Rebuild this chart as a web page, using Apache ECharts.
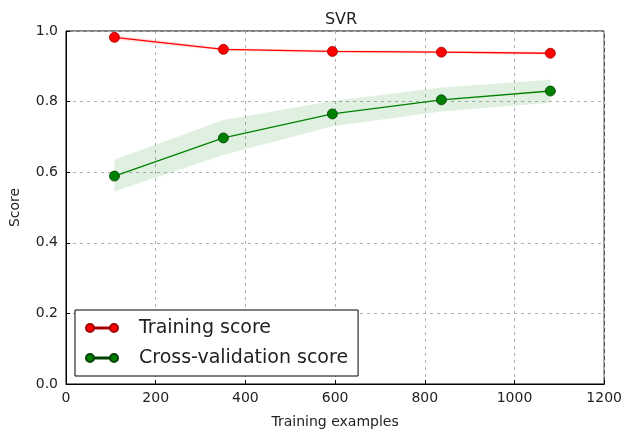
<!DOCTYPE html>
<html><head><meta charset="utf-8">
<script src="https://cdn.jsdelivr.net/npm/echarts@6/dist/echarts.min.js"></script>
<style>html,body{margin:0;padding:0;background:#fff}#c{width:625px;height:437px}</style>
</head><body><div id="c"></div>
<script>
const trainSizes = [108, 351, 594, 837, 1080];
const trainScore = [0.982, 0.948, 0.942, 0.940, 0.937];
const trainLow  = [0.975, 0.944, 0.938, 0.936, 0.933];
const trainHigh = [0.989, 0.952, 0.946, 0.944, 0.941];
const cvScore = [0.589, 0.697, 0.765, 0.805, 0.830];
const cvLow   = [0.545, 0.649, 0.730, 0.772, 0.797];
const cvHigh  = [0.635, 0.748, 0.802, 0.840, 0.862];
const xTicks = [0, 200, 400, 600, 800, 1000, 1200];
const yTicks = [0.0, 0.2, 0.4, 0.6, 0.8, 1.0];

const FONT = 'DejaVu Sans';
const pairs = (xs, ys) => xs.map((x, i) => [x, ys[i]]);
const legendIcon = 'path://M0,4 A4,4 0 1,1 8,4 A4,4 0 1,1 0,4 Z M8,3.5 L24,3.5 L24,4.5 L8,4.5 Z M24,4 A4,4 0 1,1 32,4 A4,4 0 1,1 24,4 Z';

function bandSeries(name, lo, hi, fill) {
  return {
    type: 'custom', name: name, silent: true, z: 1,
    data: trainSizes.map((x, i) => [x, lo[i], hi[i]]),
    encode: {x: 0, y: [1, 2]},
    renderItem: function (params, api) {
      if (params.dataIndex !== 0) return null;
      const pts = [];
      for (let i = 0; i < trainSizes.length; i++) pts.push(api.coord([trainSizes[i], hi[i]]));
      for (let i = trainSizes.length - 1; i >= 0; i--) pts.push(api.coord([trainSizes[i], lo[i]]));
      return {type: 'polygon', shape: {points: pts}, style: {fill: fill, stroke: null}};
    }
  };
}

const chart = echarts.init(document.getElementById('c'), null, {renderer: 'canvas'});
chart.setOption({
  animation: false,
  backgroundColor: '#fff',
  title: {text: 'SVR', left: 336, top: 7, textAlign: 'center',
    textStyle: {fontFamily: FONT, fontSize: 16, fontWeight: 'normal', color: '#222'}},
  grid: {left: 66, right: 19, top: 31, bottom: 53, show: true, borderColor: '#000', borderWidth: 1},
  xAxis: {type: 'value', min: xTicks[0], max: xTicks[xTicks.length - 1], interval: 200,
    name: 'Training examples', nameLocation: 'middle', nameGap: 31,
    nameTextStyle: {fontFamily: FONT, fontSize: 14, color: '#222'},
    axisLine: {show: true, lineStyle: {color: '#000'}},
    axisTick: {show: true, inside: true, length: 4, lineStyle: {color: '#000'}},
    axisLabel: {fontFamily: FONT, fontSize: 14, color: '#222', margin: 7,
      formatter: v => xTicks.includes(v) ? String(v) : ''},
    splitLine: {show: true, lineStyle: {color: '#b0b0b0', type: [3, 4], width: 1}}},
  yAxis: {type: 'value', min: yTicks[0], max: yTicks[yTicks.length - 1], interval: 0.2,
    name: 'Score', nameLocation: 'middle', nameGap: 44, nameRotate: 90,
    nameTextStyle: {fontFamily: FONT, fontSize: 14, color: '#222'},
    axisLine: {show: true, lineStyle: {color: '#000'}},
    axisTick: {show: true, inside: true, length: 4, lineStyle: {color: '#000'}},
    axisLabel: {fontFamily: FONT, fontSize: 14, color: '#222', margin: 8,
      formatter: v => v.toFixed(1)},
    splitLine: {show: true, lineStyle: {color: '#b0b0b0', type: [3, 4], width: 1}}},
  legend: {orient: 'vertical', left: 75, top: 310, padding: [8, 10, 8, 10], itemGap: 10,
    backgroundColor: '#fff', borderColor: '#000', borderWidth: 1, borderRadius: 0,
    itemWidth: 32, itemHeight: 8,
    textStyle: {fontFamily: FONT, fontSize: 19, lineHeight: 20, color: '#222', padding: [0, 0, 0, 16]},
    data: [{name: 'Training score', icon: legendIcon}, {name: 'Cross-validation score', icon: legendIcon}]},
  series: [
    bandSeries('trBand', trainLow, trainHigh, 'rgba(255,0,0,0.12)'),
    bandSeries('cvBand', cvLow, cvHigh, 'rgba(0,128,0,0.12)'),
    {type: 'line', name: 'Training score', data: pairs(trainSizes, trainScore), symbol: 'circle', symbolSize: 10,
      color: '#ff0000', lineStyle: {color: '#ff0000', width: 1.3},
      itemStyle: {color: '#ff0000', borderColor: '#a00000', borderWidth: 0.8}, z: 5},
    {type: 'line', name: 'Cross-validation score', data: pairs(trainSizes, cvScore), symbol: 'circle', symbolSize: 10,
      color: '#008000', lineStyle: {color: '#008000', width: 1.3},
      itemStyle: {color: '#008000', borderColor: '#004000', borderWidth: 0.8}, z: 5}
  ]
});
</script></body></html>
